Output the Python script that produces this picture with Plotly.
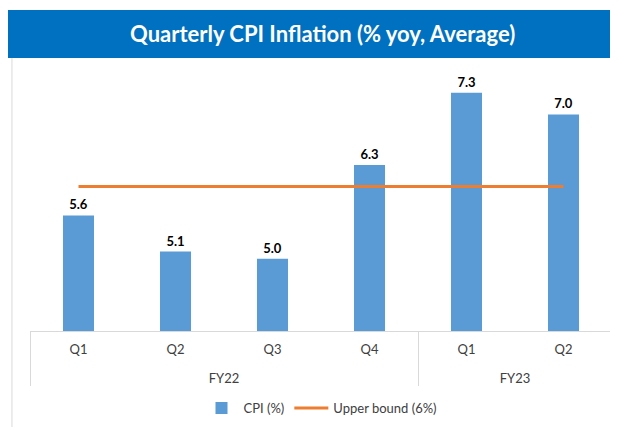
import plotly.graph_objects as go

years = ["FY22", "FY22", "FY22", "FY22", "FY23", "FY23"]
quarters = ["Q1", "Q2", "Q3", "Q4", "Q1", "Q2"]
cpi = [5.6, 5.1, 5.0, 6.3, 7.3, 7.0]
upper_bound = [6.0, 6.0, 6.0, 6.0, 6.0, 6.0]
title_text = "Quarterly CPI Inflation (% yoy, Average)"

FONT = "Lato, 'Open Sans', sans-serif"

# add an empty second line under the quarter labels so the year level sits lower
quarter_axis = [q + "<br> " for q in quarters]

fig = go.Figure()
fig.add_trace(go.Bar(
    x=[years, quarter_axis], y=cpi, name="CPI (%)",
    marker=dict(color="#5B9BD5", line=dict(width=0)),
    width=0.32,
    text=[f"{v:.1f}" for v in cpi], textposition="outside",
    textfont=dict(family=FONT, size=13, color="#000000", weight="bold"),
    cliponaxis=False,
))
fig.add_trace(go.Scatter(
    x=[years, quarter_axis], y=upper_bound, name="Upper bound (6%)",
    mode="lines", line=dict(color="#ED7D31", width=3),
))

# Title bar
fig.add_shape(type="rect", xref="paper", yref="paper",
              x0=-0.04, x1=1.02, y0=1.046, y1=1.23,
              fillcolor="#0070C0", line=dict(width=0), layer="above")
fig.add_annotation(xref="paper", yref="paper", x=0.502, y=1.138,
                   text="<b>" + title_text + "</b>", showarrow=False,
                   font=dict(family=FONT, size=22, color="white"),
                   xanchor="center", yanchor="middle")
# left chart border
fig.add_shape(type="line", xref="paper", yref="paper",
              x0=-0.031, x1=-0.031, y0=1.046, y1=-0.4,
              line=dict(color="#D9D9D9", width=1))

fig.update_layout(
    width=610, height=419,
    margin=dict(l=22, r=6, t=62, b=96, autoexpand=False),
    paper_bgcolor="white", plot_bgcolor="white",
    font=dict(family=FONT, size=12, color="#404040"),
    showlegend=True,
    legend=dict(orientation="h", x=0.5, xanchor="center", y=-0.295, yanchor="middle",
                font=dict(family=FONT, size=13, color="#404040"),
                itemwidth=34, traceorder="normal"),
    bargap=0.5,
    xaxis=dict(type="multicategory", showline=True, linecolor="#D9D9D9",
               showdividers=True, dividercolor="#D9D9D9", dividerwidth=1,
               ticks="", ticklabelstandoff=6,
               tickfont=dict(family=FONT, size=13, color="#404040"),
               showgrid=False, automargin=False),
    yaxis=dict(range=[4, 7.615], visible=False, showgrid=False, zeroline=False,
               automargin=False),
)

fig.write_html("out.html")
